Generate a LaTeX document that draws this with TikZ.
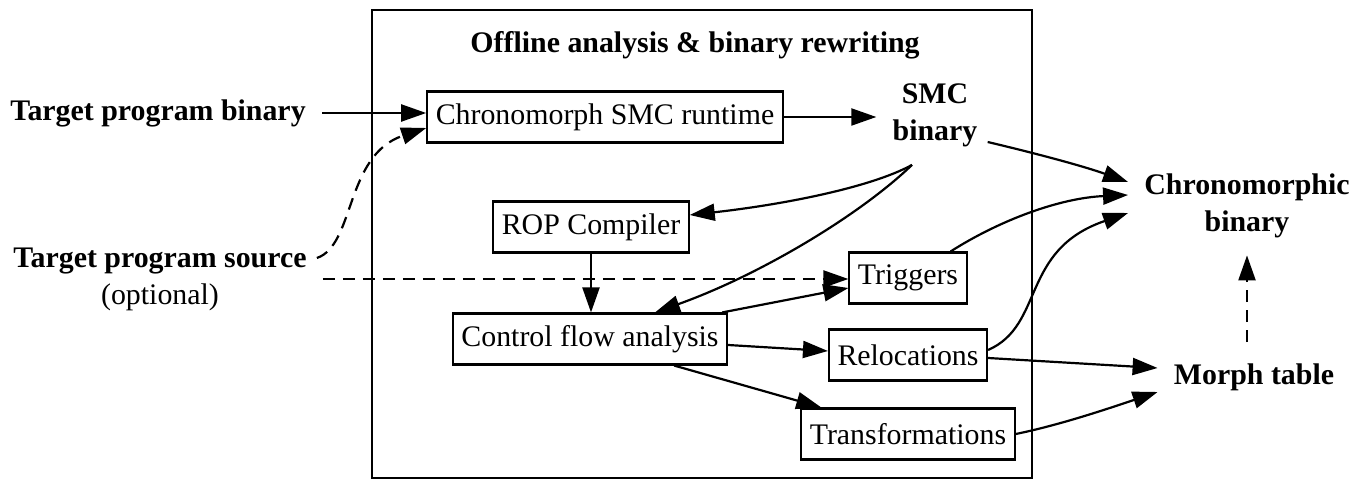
\documentclass[tikz,border=0pt]{standalone}
\usepackage{fontspec}
\setmainfont{Liberation Serif}
\usetikzlibrary{arrows.meta,calc}
\def\dfont{\fontsize{17}{21}\selectfont}
\tikzset{box/.style={draw, line width=1.2pt, minimum height=1.02cm, inner xsep=0.17cm},
    ext/.style={font=\dfont\bfseries, align=center, inner xsep=0.32cm, inner ysep=0.1cm},
    arr/.style={-{Triangle[length=0.5cm,width=0.34cm]}, line width=1.25pt},
    dasharr/.style={arr, dash pattern=on 0.24cm off 0.16cm}}

\begin{document}
\begin{tikzpicture}[x=0.02cm, y=-0.02cm, font=\dfont]
    \useasboundingbox (0,0) rectangle (1366,489);
    \draw[line width=1.2pt] (372,10) rectangle (1032,478);
    \node[ext] (title) at (695,45) {Offline analysis \& binary rewriting};

    \node[ext] (tpb) at (158,113) {Target program binary};
    \node[ext, font=\dfont] (tps) at (160,279) {\textbf{Target program source}\\(optional)};
    \node[box] (runtime) at (605,117) {Chronomorph SMC runtime};
    \node[ext] (smc) at (935,115) {SMC\\binary};
    \node[box] (rop) at (591,227) {ROP Compiler};
    \node[box] (cfa) at (590,339) {Control flow analysis};
    \node[box] (trig) at (908,278) {Triggers};
    \node[box] (reloc) at (908,355) {Relocations};
    \node[box] (transf) at (908,434) {Transformations};
    \node[ext] (chron) at (1247,206) {Chronomorphic\\binary};
    \node[ext] (morph) at (1254,377) {Morph table};

    % inputs
    \draw[arr] (tpb) -- (runtime.west |- tpb);
    \draw[dasharr] ($(tps.east)+(-6,-21)$) .. controls (355,245) and (345,155) .. ($(runtime.west)+(0,11)$);
    \draw[dasharr] (tps.east) -- (trig.west |- tps.east);
    \draw[arr] (runtime) -- (smc.west |- runtime);

    % from the SMC binary
    \draw[arr] ($(smc.south)+(-23,13)$) .. controls (870,188) and (780,205) .. ($(rop.east)+(0,-12)$);
    \draw[arr] ($(smc.south)+(-23,13)$) .. controls (860,215) and (760,275) .. ($(cfa.north)+(65,0)$);
    \draw[arr] ($(smc.east)+(-6,27)$) .. controls (1030,152) and (1080,165) .. ($(chron.west)+(0,-24)$);
    \draw[arr] (rop) -- (rop |- cfa.north);

    % analysis outputs
    \draw[arr] ($(cfa.north east)+(-6,0)$) -- ($(trig.west)+(0,10)$);
    \draw[arr] ($(cfa.east)+(0,6)$) -- ($(reloc.west)+(0,-4)$);
    \draw[arr] ($(cfa.south east)+(-54,0)$) -- ($(transf.north west)+(21,0)$);

    \draw[arr] ($(trig.north east)+(-17,0)$) .. controls (1000,220) and (1060,198) .. ($(chron.west)+(0,-11)$);
    \draw[arr] ($(reloc.east)+(0,-5)$) .. controls (1045,325) and (1020,250) .. ($(chron.west)+(0,7)$);
    \draw[arr] ($(reloc.east)+(0,3)$) -- ($(morph.west)+(0,-9)$);
    \draw[arr] (transf.east) .. controls (1060,425) and (1110,408) .. ($(morph.west)+(0,15)$);
    \draw[dasharr] ($(morph.north)+(-7,-16)$) -- ($(chron.south)+(0,12)$);
\end{tikzpicture}
\end{document}
